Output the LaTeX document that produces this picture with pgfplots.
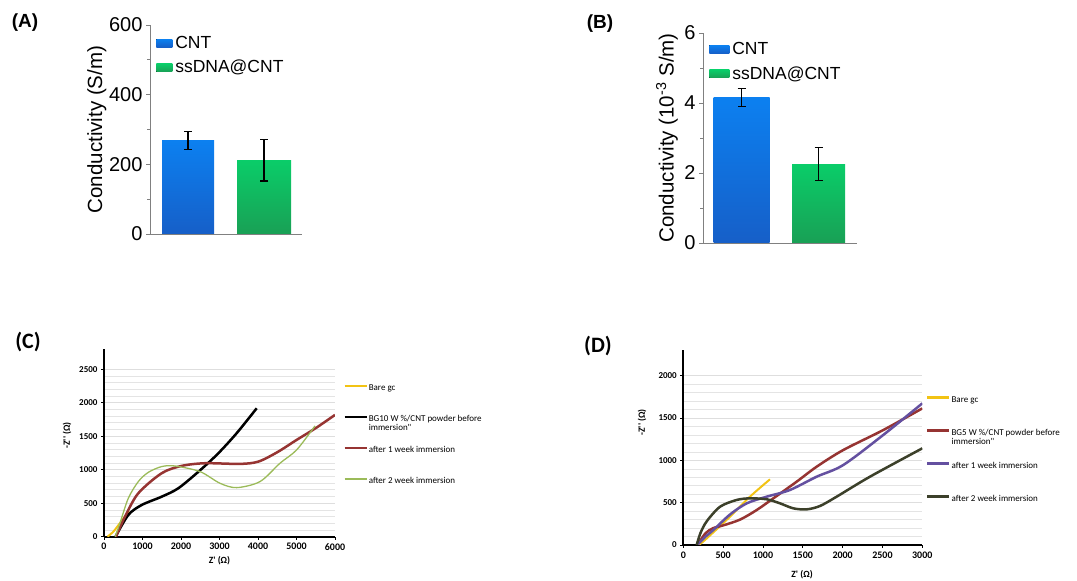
\documentclass[border=0pt]{standalone}
\usepackage{fontspec}
\setmainfont{Liberation Sans}
\newfontfamily\carlito{Carlito}
\usepackage{pgfplots}
\pgfplotsset{compat=1.18}
\definecolor{cntTop}{RGB}{12,128,240}
\definecolor{cntBot}{RGB}{22,95,200}
\definecolor{dnaTop}{RGB}{10,205,105}
\definecolor{dnaBot}{RGB}{25,160,85}
\definecolor{bare}{RGB}{242,195,20}
\definecolor{dred}{RGB}{150,52,50}
\definecolor{lgreen}{RGB}{155,187,89}
\definecolor{purp}{RGB}{100,80,160}
\definecolor{olive}{RGB}{60,64,42}
\definecolor{gridc}{RGB}{222,222,222}
\pgfplotsset{
 barpanel/.style={
  scale only axis, xmin=0.5, xmax=2.5, ymin=0,
  axis x line*=bottom, axis y line*=left,
  axis line style={gray, line width=0.8pt, -},
  xtick=\empty,
  ytick style={gray, line width=0.8pt},
  minor y tick num=1,
  tick align=outside,
  major tick length=4pt, minor tick length=3pt,
  /pgf/number format/assume math mode=true,
  every tick label/.append style={font=\fontsize{20}{20}\selectfont},
  every axis y label/.style={at={(axis description cs:-0.35,0.5)}, rotate=90, anchor=center, font=\fontsize{20.5}{21}\selectfont},
  clip=false,
  legend style={draw=none, fill=none, at={(0.04,0.946)}, anchor=north west,
   font=\fontsize{17.5}{18}\selectfont, inner sep=0pt, row sep=9pt, column sep=3pt,
   nodes={inner sep=0pt, text height=12pt, text depth=3.5pt}},
  legend cell align=left,
 },
 errs/.style={error bars/y dir=both, error bars/y explicit,
   error bars/error bar style={black, line width=1.2pt},
   error bars/error mark options={rotate=90, black, mark size=4pt, line width=1.2pt}},
 eispanel/.style={
  scale only axis, xmin=0, ymin=0,
  axis x line*=bottom, axis y line*=left,
  axis line style={black, line width=1.8pt, -},
  tick style={black, line width=0.8pt},
  tick align=outside, major tick length=3pt, minor tick length=0pt,
  scaled ticks=false,
  /pgf/number format/1000 sep={},
  /pgf/number format/assume math mode=true,
  xticklabel style={font=\carlito\bfseries\fontsize{10}{10}\selectfont},
  yticklabel style={font=\carlito\bfseries\fontsize{9}{9}\selectfont},
  ymajorgrids, yminorgrids, minor y tick num=4,
  major grid style={gridc, line width=0.6pt},
  minor grid style={gridc!80, line width=0.6pt},
  every axis x label/.style={anchor=center, font=\carlito\bfseries\fontsize{9.5}{10}\selectfont},
  every axis y label/.style={anchor=center, rotate=90, font=\carlito\bfseries\fontsize{9.5}{10}\selectfont},
  legend style={draw=none, fill=none, anchor=north west,
   font=\carlito\fontsize{9}{10}\selectfont, inner sep=0pt, column sep=1pt,
   nodes={inner sep=0pt, text height=6.5pt, text depth=1.5pt}},
  legend cell align=left,
  legend image code/.code={\draw[#1, line width=2.5pt] (0pt,2.5pt) -- (22pt,2.5pt);},
 }
}
\begin{document}
\begin{tikzpicture}
\path[use as bounding box] (0pt,0pt) rectangle (1077pt,581pt);
% Panel labels
\node[font=\bfseries\fontsize{19}{19}\selectfont] at (25pt,558pt) {(A)};
\node[font=\bfseries\fontsize{19}{19}\selectfont] at (600pt,557pt) {(B)};
\node[font=\carlito\bfseries\fontsize{22}{22}\selectfont] at (28pt,239pt) {(C)};
\node[font=\carlito\bfseries\fontsize{22}{22}\selectfont] at (598pt,235pt) {(D)};

% (A)
\begin{axis}[barpanel, at={(150pt,347pt)}, anchor=south west, width=152pt, height=209pt,
  ymax=600, ytick={0,200,400,600}, ylabel={Conductivity (S/m)}]
\addplot[ybar, bar width=52pt, bar shift=0pt, draw=none, top color=cntTop, bottom color=cntBot, errs,
  legend image code/.code={\fill[top color=cntTop,bottom color=cntBot] (0pt,-3pt) rectangle (16pt,5pt);}]
  coordinates {(1,268) +- (0,26)};
\addlegendentry{CNT}
\addplot[ybar, bar width=54pt, bar shift=0pt, draw=none, top color=dnaTop, bottom color=dnaBot, errs,
  legend image code/.code={\fill[top color=dnaTop,bottom color=dnaBot] (0pt,-3pt) rectangle (16pt,5pt);}]
  coordinates {(2,212) +- (0,60)};
\addlegendentry{ssDNA@CNT}
\end{axis}

% (B)
\begin{axis}[barpanel, at={(703pt,338pt)}, anchor=south west, width=154pt, height=210pt,
  ymax=6, ytick={0,2,4,6}, ylabel={Conductivity (10\textsuperscript{-3} S/m)},
  every axis y label/.append style={at={(axis description cs:-0.234,0.5)}},
  legend style={at={(0.04,0.955)}}]
\addplot[ybar, bar width=56pt, bar shift=0pt, draw=none, top color=cntTop, bottom color=cntBot, errs,
  legend image code/.code={\fill[top color=cntTop,bottom color=cntBot] (0pt,-3pt) rectangle (20pt,5pt);}]
  coordinates {(1,4.155) +- (0,0.265)};
\addlegendentry{CNT}
\addplot[ybar, bar width=53pt, bar shift=0pt, draw=none, top color=dnaTop, bottom color=dnaBot, errs,
  legend image code/.code={\fill[top color=dnaTop,bottom color=dnaBot] (0pt,-3pt) rectangle (20pt,5pt);}]
  coordinates {(2,2.255) +- (0,0.465)};
\addlegendentry{ssDNA@CNT}
\end{axis}

% (C)
\begin{axis}[eispanel, at={(104pt,44.3pt)}, anchor=south west, width=231pt, height=187.7pt,
  xmax=6000, ymax=2800, xtick={0,1000,...,6000}, ytick={0,500,...,2500},
  xlabel={Z\textquotesingle\ (Ω)}, ylabel={-Z\textquotesingle\textquotesingle\ (Ω)},
  every axis x label/.append style={at={(axis description cs:0.5,-0.13)}},
  every axis y label/.append style={at={(axis description cs:-0.16,0.54)}},
  legend style={at={(axis description cs:1.035,0.812)}, row sep=23pt}]
\addplot[bare, line width=2pt, smooth] coordinates {(90,0) (250,80) (450,230) (650,380)};
\addlegendentry{Bare gc}
\addplot[black, line width=2.5pt, smooth] coordinates {(300,0) (631,324) (979,473) (1498,597) (1931,723) (2494,990) (2970,1245) (3446,1544) (3966,1916)};
\addlegendentry{\smash{\begin{tabular}[t]{@{}l@{}}BG10 W \%/CNT powder before\\[-1.5pt]immersion"\end{tabular}}}
\addplot[dred, line width=2.5pt, smooth] coordinates {(310,0) (545,299) (891,648) (1498,947) (2017,1056) (2623,1096) (3532,1086) (4008,1120) (4500,1260) (5004,1444) (5500,1620) (6000,1817)};
\addlegendentry{after 1 week immersion}
\addplot[lgreen, line width=1.3pt, smooth] coordinates {(290,0) (416,204) (631,573) (891,822) (1151,960) (1498,1046) (1844,1055) (2494,971) (3013,797) (3446,732) (4052,822) (4571,1096) (5004,1295) (5481,1653)};
\addlegendentry{after 2 week immersion}
\end{axis}

% (D)
\begin{axis}[eispanel, at={(683.3pt,36pt)}, anchor=south west, width=239pt, height=194.7pt,
  xmax=3000, ymax=2300, xtick={0,500,...,3000}, ytick={0,500,...,2000},
  xlabel={Z\textquotesingle\ (Ω)}, ylabel={-Z\textquotesingle\textquotesingle\ (Ω)},
  every axis x label/.append style={at={(axis description cs:0.497,-0.154)}},
  every axis y label/.append style={at={(axis description cs:-0.173,0.63)}},
  legend style={at={(axis description cs:1.015,0.766)}, row sep=25pt}]
\addplot[bare, line width=2pt, smooth] coordinates {(190,0) (272,59) (586,334) (837,571) (1088,776)};
\addlegendentry{Bare gc}
\addplot[dred, line width=2.5pt, smooth] coordinates {(175,0) (280,140) (377,200) (502,232) (712,300) (921,413) (1130,551) (1423,748) (1674,925) (2008,1122) (2510,1358) (3000,1614)};
\addlegendentry{\smash{\begin{tabular}[t]{@{}l@{}}BG5 W \%/CNT powder before\\[-1.5pt]immersion"\end{tabular}}}
\addplot[purp, line width=2.5pt, smooth] coordinates {(175,0) (280,100) (377,177) (586,360) (796,492) (1047,571) (1339,650) (1674,807) (2008,945) (2510,1300) (3000,1673)};
\addlegendentry{after 1 week immersion}
\addplot[olive, line width=2.5pt, smooth] coordinates {(168,0) (215,140) (294,280) (461,452) (670,532) (837,551) (1047,540) (1214,492) (1381,433) (1549,421) (1716,461) (1925,571) (2343,807) (3000,1142)};
\addlegendentry{after 2 week immersion}
\end{axis}
\end{tikzpicture}
\end{document}
